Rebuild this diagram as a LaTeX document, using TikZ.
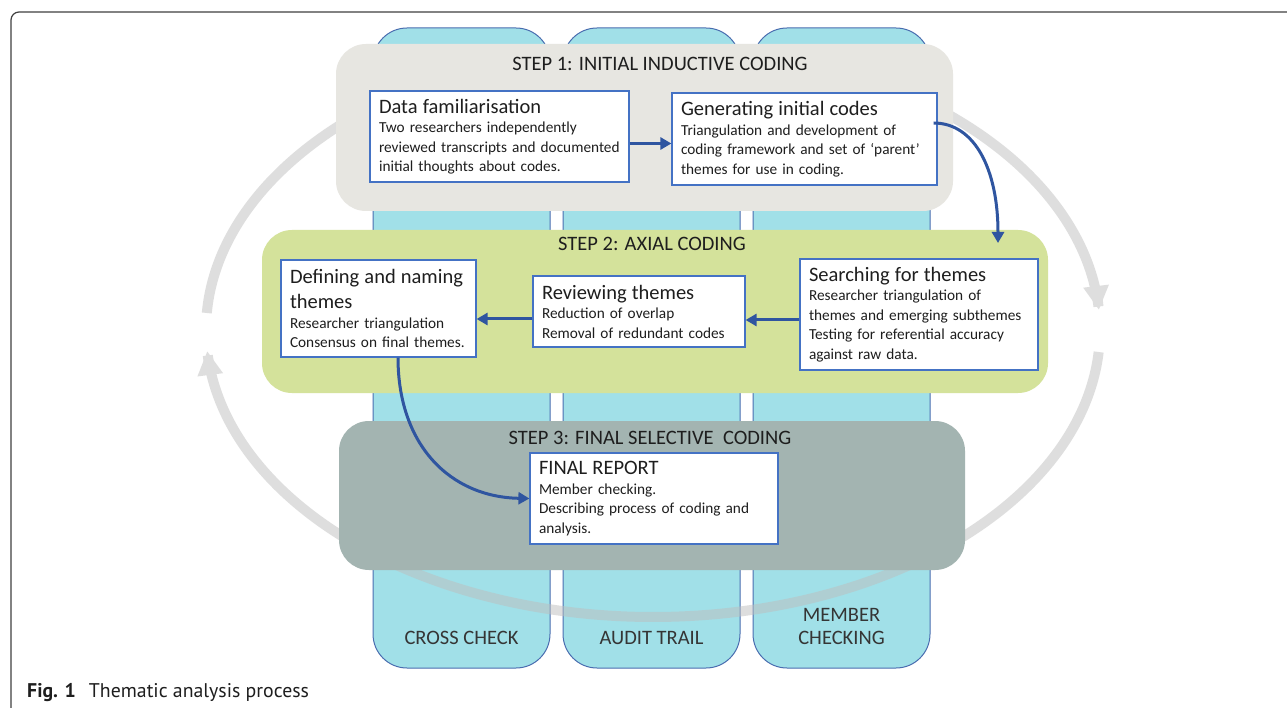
\documentclass[tikz,border=0pt]{standalone}
\usepackage{fontspec}
\setmainfont{Carlito}
\newfontfamily\capfont{PT Sans}
\usetikzlibrary{arrows.meta}
\definecolor{colfill}{HTML}{A1E0E8}
\definecolor{colline}{HTML}{4A6DB0}
\definecolor{sonefill}{HTML}{E7E6E1}
\definecolor{stwofill}{HTML}{D4E29B}
\definecolor{sthreefill}{HTML}{A3B4B1}
\definecolor{boxline}{HTML}{4472C4}
\definecolor{arrowblue}{HTML}{2F55A0}
\definecolor{ringgray}{HTML}{BEBEBE}
\definecolor{txt}{HTML}{1E1E1E}
\begin{document}
\begin{tikzpicture}[x=1pt,y=-1pt,
  column/.style={draw=colline, line width=1pt, fill=colfill, rounded corners=34pt, minimum width=177pt, minimum height=640pt, inner sep=0pt},
  stepband/.style={rounded corners=30pt, inner sep=0pt},
  steptitle/.style={font=\fontsize{20.5}{24}\selectfont, text=txt, inner sep=0pt},
  collabel/.style={font=\fontsize{20.5}{23}\selectfont, text=txt!90, align=center, inner sep=0pt},
  textbox/.style={draw=boxline, line width=1.2pt, fill=white, inner sep=0pt, align=left, font=\fontsize{15.3}{19.5}\selectfont, text=txt},
  flow/.style={draw=arrowblue, line width=3pt, -{Triangle[length=11pt,width=12pt]}},
  ring/.style={draw=ringgray, line width=10pt},
  ringarrow/.style={ring, -{Triangle[length=24pt,width=24pt]}},
]
\useasboundingbox (0,0) rectangle (1287,708);
\fill[white] (0,0) rectangle (1287,708);
% frame
\draw[line width=1.2pt, black!75, rounded corners=8pt] (11,712) -- (11,12) -- (1295,12);
% caption
\node[anchor=base west, inner sep=0pt, font=\capfont\fontsize{19.8}{22}\selectfont, text=txt] (caption) at (27,697) {{\bfseries Fig. 1}\hspace{13pt}Thematic analysis process};
% columns
\node[column] (colA) at (461.5,348) {};
\node[column] (colB) at (651.5,348) {};
\node[column] (colC) at (841.5,348) {};
\node[collabel] (labA) at (461.5,638) {CROSS CHECK};
\node[collabel] (labB) at (651.5,638) {AUDIT TRAIL};
\node[collabel] (labC) at (841.5,626) {MEMBER\\CHECKING};
% ring arcs
\begin{scope}[transparency group, opacity=0.5]
\draw[ring] plot[domain=183.4:236, samples=60, smooth] ({653+447*cos(\x)},{330+287*sin(\x)});
\draw[ringarrow] plot[domain=305:356, samples=60, smooth] ({653+447*cos(\x)},{330+287*sin(\x)});
\draw[ringarrow] plot[domain=4.4:175.8, samples=150, smooth] ({653+447*cos(\x)},{330+287*sin(\x)});
\end{scope}
% step bands
\node[stepband, fill=sonefill, minimum width=617pt, minimum height=167pt] (stepA) at (644.5,127.5) {};
\node[stepband, fill=stwofill, minimum width=786pt, minimum height=163pt] (stepB) at (655,311.5) {};
\node[stepband, fill=sthreefill, minimum width=626pt, minimum height=149pt] (stepC) at (652,495.5) {};
\node[steptitle] (titleA) at (660,64) {STEP 1: INITIAL INDUCTIVE CODING};
\node[steptitle] (titleB) at (652,244) {STEP 2: AXIAL CODING};
\node[steptitle] (titleC) at (650,438) {STEP 3: FINAL SELECTIVE\ \ CODING};
% text boxes
\node[textbox, minimum width=259pt, minimum height=91pt, text width=241pt] (datafam) at (499.5,136.5)
 {{\fontsize{20.5}{24}\selectfont Data familiarisation}\\Two researchers independently\\reviewed transcripts and documented\\initial thoughts about codes.};
\node[textbox, minimum width=265pt, minimum height=92pt, text width=247pt] (gen) at (804.5,139)
 {{\fontsize{20.5}{24}\selectfont Generating initial codes}\\Triangulation and development of\\coding framework and set of ‘parent’\\themes for use in coding.};
\node[textbox, minimum width=195pt, minimum height=97pt, text width=177pt] (define) at (378.5,308.5)
 {{\fontsize{20.5}{25}\selectfont Defining and naming\\themes\par}Researcher triangulation\\Consensus on final themes.};
\node[textbox, minimum width=212pt, minimum height=71pt, text width=194pt] (review) at (639,311.5)
 {{\fontsize{20.5}{24}\selectfont Reviewing themes}\\Reduction of overlap\\Removal of redundant codes};
\node[textbox, minimum width=238pt, minimum height=111pt, text width=220pt] (search) at (919,314.5)
 {{\fontsize{20.5}{24}\selectfont Searching for themes}\\Researcher triangulation of\\themes and emerging subthemes\\Testing for referential accuracy\\against raw data.};
\node[textbox, minimum width=248pt, minimum height=91pt, text width=230pt] (final) at (654,498.5)
 {{\fontsize{20.5}{24}\selectfont FINAL REPORT}\\Member checking.\\Describing process of coding and\\analysis.};
% connectors
\coordinate (a1) at ([yshift=-7pt]datafam.east);
\draw[flow] (a1) -- (a1 -| gen.west);
\coordinate (a2) at ([yshift=-5.5pt]search.west);
\draw[flow] (a2) -- (a2 -| review.east);
\coordinate (a3) at ([yshift=-7.5pt]review.west);
\draw[flow] (a3) -- (a3 -| define.east);
\coordinate (a4) at ([yshift=16pt,xshift=-4pt]gen.east);
\coordinate (a4end) at (998,243);
\draw[flow] (a4) .. controls (975,123) and (998,170) .. (a4end);
\coordinate (a5) at ([xshift=19.5pt]define.south);
\draw[flow] (a5) .. controls (398,445) and (450,497) .. (final.west);
\end{tikzpicture}
\end{document}
